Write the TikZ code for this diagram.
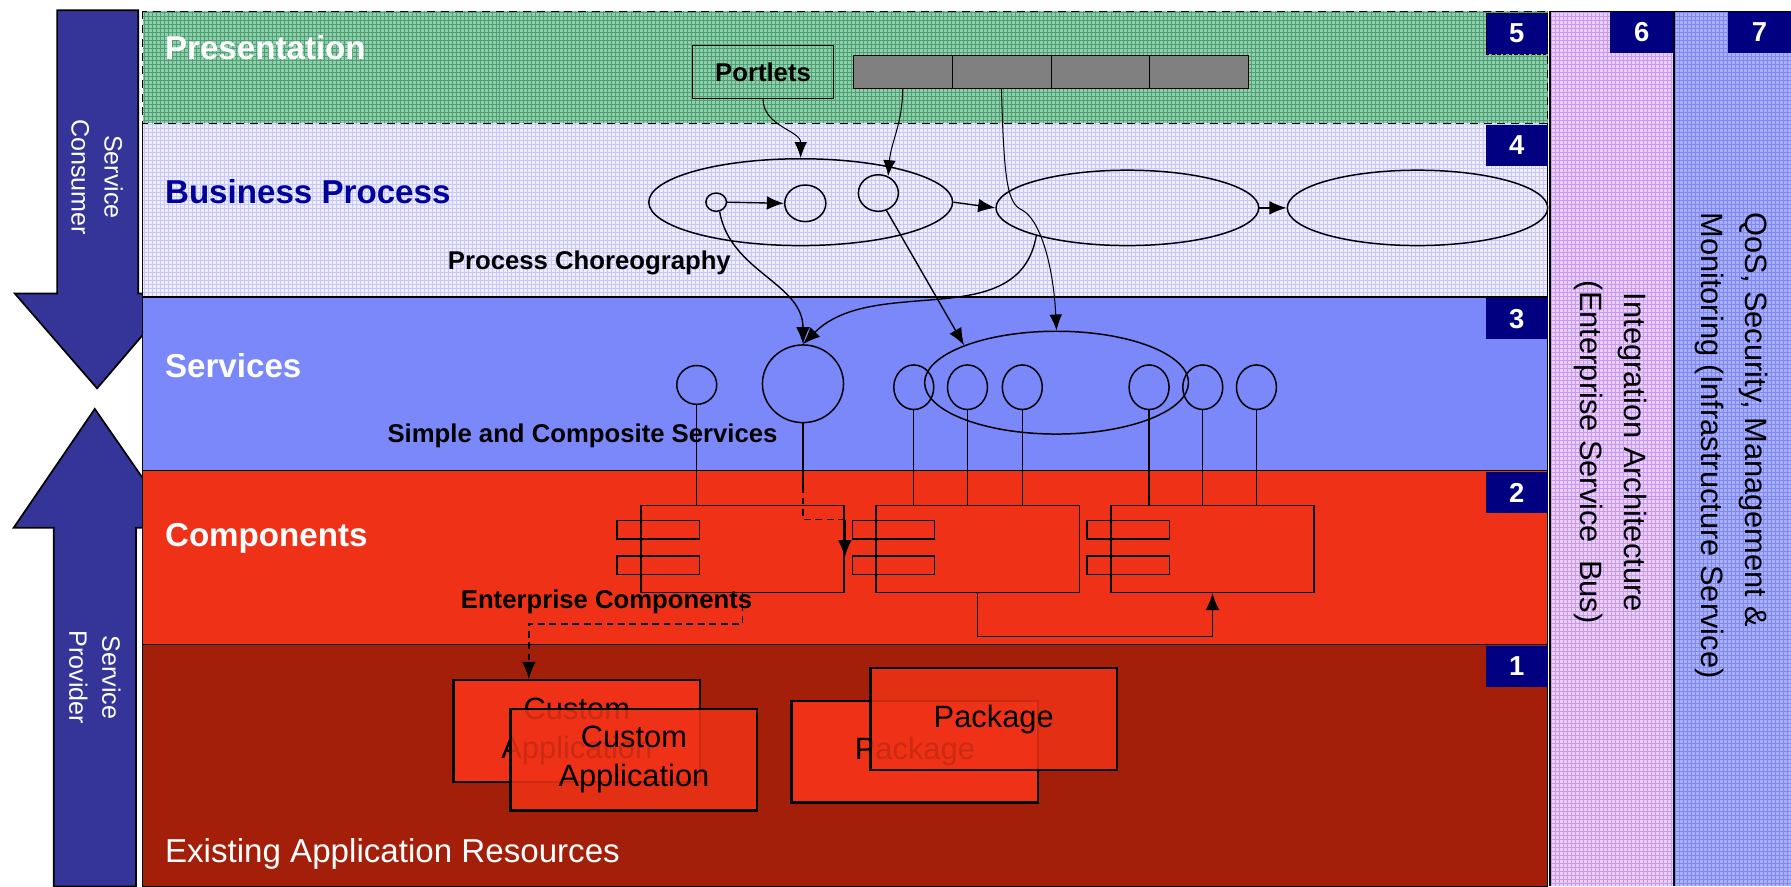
\documentclass[tikz,border=0pt]{standalone}
\usepackage{fontspec}
\setmainfont{Liberation Sans}
\usetikzlibrary{shapes.geometric, arrows.meta, positioning}
\definecolor{presgreen}{HTML}{8FD0AA}
\definecolor{presgrid}{HTML}{4F9F76}
\definecolor{busback}{HTML}{EEEEFF}
\definecolor{busgrid}{HTML}{C8C8F8}
\definecolor{servblue}{HTML}{7A88FA}
\definecolor{compred}{HTML}{EF3217}
\definecolor{exred}{HTML}{A31F09}
\definecolor{esbpink}{HTML}{EAD0FF}
\definecolor{esbgrid}{HTML}{C898F0}
\definecolor{qosblue}{HTML}{A8B0FF}
\definecolor{qosgrid}{HTML}{7F88F0}
\definecolor{navybox}{HTML}{000080}
\definecolor{arrowblue}{HTML}{353599}
\definecolor{bptext}{HTML}{000099}
\definecolor{bargray}{HTML}{808080}
\tikzset{
    layer/.style={draw=black, line width=1.2pt},
    gridline/.style={line width=0.4pt, step=3.5pt},
    layertitle/.style={anchor=west, text=white, font=\bfseries\fontsize{29}{33}\selectfont},
    sublabel/.style={font=\bfseries\fontsize{22.5}{26}\selectfont},
    numbox/.style={anchor=north east, fill=navybox, text=white, minimum width=54pt, minimum height=36pt, inner sep=0pt, font=\bfseries\fontsize{24}{26}\selectfont},
    bigarrow/.style={fill=arrowblue, draw=black, line width=1.5pt},
    sidetext/.style={rotate=-90, font=\fontsize{27}{38}\selectfont},
    oval/.style={ellipse, draw=black, line width=1.3pt, inner sep=0pt},
    port/.style={ellipse, draw=black, line width=1.3pt, inner sep=0pt, minimum width=35pt, minimum height=39pt},
    comp/.style={rectangle, draw=black, line width=1.3pt, minimum width=178pt, minimum height=76pt},
    tab/.style={rectangle, draw=black, line width=1.3pt, minimum width=72pt, minimum height=16pt, inner sep=0pt},
    cell/.style={rectangle, draw=black, fill=bargray, minimum width=86.5pt, minimum height=29pt, inner sep=0pt, outer sep=0pt},
    appbox/.style={rectangle, draw=black, line width=2pt, fill=compred, minimum width=216pt, minimum height=89pt, align=center, font=\fontsize{27}{34}\selectfont},
    arrow/.style={line width=1.2pt, -{Latex[length=15pt, width=12pt]}},
    thinarrow/.style={line width=0.9pt, -{Latex[length=14pt, width=11pt]}},
    wire/.style={line width=1.2pt}
}

\begin{document}
\begin{tikzpicture}[x=1pt, y=1pt]
    \useasboundingbox (0,0) rectangle (1568,-776);

    % Consumer / provider arrows
    \draw[bigarrow] (50,-9) -- (121,-9) -- (121,-257) -- (156,-257) -- (85,-340) -- (13,-257) -- (50,-257) -- cycle;
    \draw[bigarrow] (83,-358) -- (155,-462) -- (119,-462) -- (119,-776) -- (47,-776) -- (47,-462) -- (12,-462) -- cycle;
    \node[rotate=-90, align=center, text=white, font=\fontsize{22}{29}\selectfont] (consT) at (85,-155) {Service\\Consumer};
    \node[rotate=-90, align=center, text=white, font=\fontsize{22}{29}\selectfont] (provT) at (83,-593) {Service\\Provider};

    % Layers
    \fill[presgreen] (125,-10) rectangle (1355,-108);
    \draw[gridline, presgrid] (125,-10) grid (1355,-108);
    \fill[busback] (125,-108) rectangle (1355,-260);
    \draw[gridline, busgrid] (125,-108) grid (1355,-260);
    \draw[layer] (125,-108) -- (125,-260) -- (1355,-260) -- (1355,-108);
    \draw[layer, dash pattern=on 7pt off 5pt] (125,-10) rectangle (1355,-108);
    \draw[layer, fill=servblue] (125,-260) rectangle (1355,-412);
    \draw[layer, fill=compred] (125,-412) rectangle (1355,-564);
    \draw[layer, fill=exred] (125,-564) rectangle (1355,-776);

    % Side bands
    \fill[esbpink] (1357,-10) rectangle (1465,-776);
    \draw[gridline, esbgrid] (1357,-10) grid (1465,-776);
    \draw[layer] (1357,-776) -- (1357,-10) -- (1465,-10) -- (1465,-776);
    \fill[qosblue] (1466,-10) rectangle (1568,-776);
    \draw[gridline, qosgrid] (1466,-10) grid (1568,-776);
    \draw[layer] (1466,-776) -- (1466,-10) -- (1568,-10);

    % Layer numbers
    \node[numbox, draw=black, dash pattern=on 3pt off 2pt] (n5) at (1355,-11) {5};
    \node[numbox] (n4) at (1355,-109) {4};
    \node[numbox] (n3) at (1355,-261) {3};
    \node[numbox] (n2) at (1355,-413) {2};
    \node[numbox] (n1) at (1355,-565) {1};
    \node[numbox, minimum width=55pt] (n6) at (1465,-10) {6};
    \node[numbox, minimum width=55pt] (n7) at (1568,-10) {7};

    % Band texts
    \node[sidetext, align=center] (esbT) at (1410,-396) {Integration Architecture\\(Enterprise Service\ \ Bus)};
    \node[sidetext, align=left] (qosT) at (1516,-390) {QoS, Security, Management \&\\Monitoring (Infrastructure Service)};

    % Presentation
    \node[layertitle] (presT) at (141,-42) {Presentation};
    \node[sublabel, draw=black, line width=1pt, minimum width=124pt, minimum height=46pt] (portlets) at (668,-63) {Portlets};
    \node[cell] (cell1) at (790.25,-63) {};
    \node[cell, right=0pt of cell1] (cell2) {};
    \node[cell, right=0pt of cell2] (cell3) {};
    \node[cell, right=0pt of cell3] (cell4) {};

    % Business process
    \node[layertitle, text=bptext] (busT) at (141,-168) {Business Process};
    \node[oval, minimum width=266pt, minimum height=76pt] (procA) at (701,-177) {};
    \node[oval, minimum width=18pt, minimum height=16pt] (a1) at (627,-177) {};
    \node[oval, minimum width=36pt, minimum height=32pt] (a2) at (705,-178) {};
    \node[oval, minimum width=35pt, minimum height=32pt] (a3) at (769,-169) {};
    \node[oval, minimum width=230pt, minimum height=66pt] (procB) at (987,-182) {};
    \node[oval, minimum width=228pt, minimum height=66pt] (procC) at (1241,-182) {};
    \node[sublabel] (chorT) at (516,-230) {Process Choreography};

    % Services
    \node[layertitle] (servT) at (141,-320) {Services};
    \node[oval, minimum width=231pt, minimum height=90pt] (procD) at (925,-335) {};
    \node[port, minimum height=34pt] (s1) at (610,-337) {};
    \node[oval, minimum width=71pt, minimum height=68pt] (s2) at (703,-336) {};
    \node[port] (s3) at (800,-339) {};
    \node[port] (s4) at (847,-339) {};
    \node[port] (s5) at (895,-339) {};
    \node[port] (s6) at (1006,-339) {};
    \node[port] (s7) at (1053,-339) {};
    \node[port] (s8) at (1100,-339) {};
    \node[sublabel] (simpT) at (510,-382) {Simple and Composite Services};

    % Components
    \node[layertitle] (compT) at (141,-471) {Components};
    \node[comp] (c1) at (650,-480.5) {};
    \node[comp] (c2) at (856,-480.5) {};
    \node[comp] (c3) at (1061.5,-480.5) {};
    \foreach \c in {c1,c2,c3} {
        \node[tab] (\c-a) at ([shift={(16pt,-22pt)}]\c.north west) {};
        \node[tab] (\c-b) at ([shift={(16pt,-53pt)}]\c.north west) {};
    }
    \node[sublabel] (entT) at (531,-527) {Enterprise Components};

    % Existing applications
    \node[appbox] (cab) at (505,-640) {Custom\\Application};
    \node[appbox, fill opacity=0.85, text opacity=1] (caf) at (555,-665) {Custom\\Application};
    \node[appbox] (pkb) at (801,-658) {Package};
    \node[appbox, fill opacity=0.85, text opacity=1] (pkf) at (870,-629.5) {Package};
    \node[anchor=west, text=white, font=\fontsize{29}{33}\selectfont] (exT) at (141,-748) {Existing Application Resources};

    % Service to component wires
    \foreach \s/\c in {s1/c1, s3/c2, s4/c2, s5/c2, s6/c3, s7/c3, s8/c3}
        \draw[wire] (\s.south) -- (\s.south |- \c.north);
    \draw[wire] (s2.south) -- ++(0,-55) coordinate (s2k);
    \draw[wire, dash pattern=on 6pt off 4pt] (s2k) |- ([yshift=-13pt]c1.north east) coordinate (s2m);
    \draw[arrow] (s2m) -- ([yshift=-46pt]c1.north east);
    \draw[arrow] (c2.south) -- ++(0,-38) -| (c3.south);
    \draw[arrow, dash pattern=on 6pt off 4pt] (c1.south) -- ++(0,-27) -| ([xshift=-42pt]cab.north);

    % Process flow
    \draw[arrow] (a1.east) -- (a2.west);
    \draw[arrow] (procA.east) -- (procB.west);
    \draw[arrow] (procB.east) -- (procC.west);

    % Presentation links
    \draw[thinarrow] (portlets.south) to[out=-90, in=90] (procA.north);
    \draw[thinarrow] (cell1.south) to[out=-90, in=85] (a3.60);
    \draw[thinarrow] (cell2.south) .. controls (879,-160) and (882,-178) .. (895,-184) .. controls (910,-192) and (922,-230) .. (procD.north);

    % Choreography links
    \draw[arrow] (a1.-70) to[out=-80, in=90] (s2.north);
    \draw[arrow] (a3.-65) -- (procD.158);
    \draw[arrow] (procB.197) to[out=-100, in=45] (s2.north);
\end{tikzpicture}
\end{document}
